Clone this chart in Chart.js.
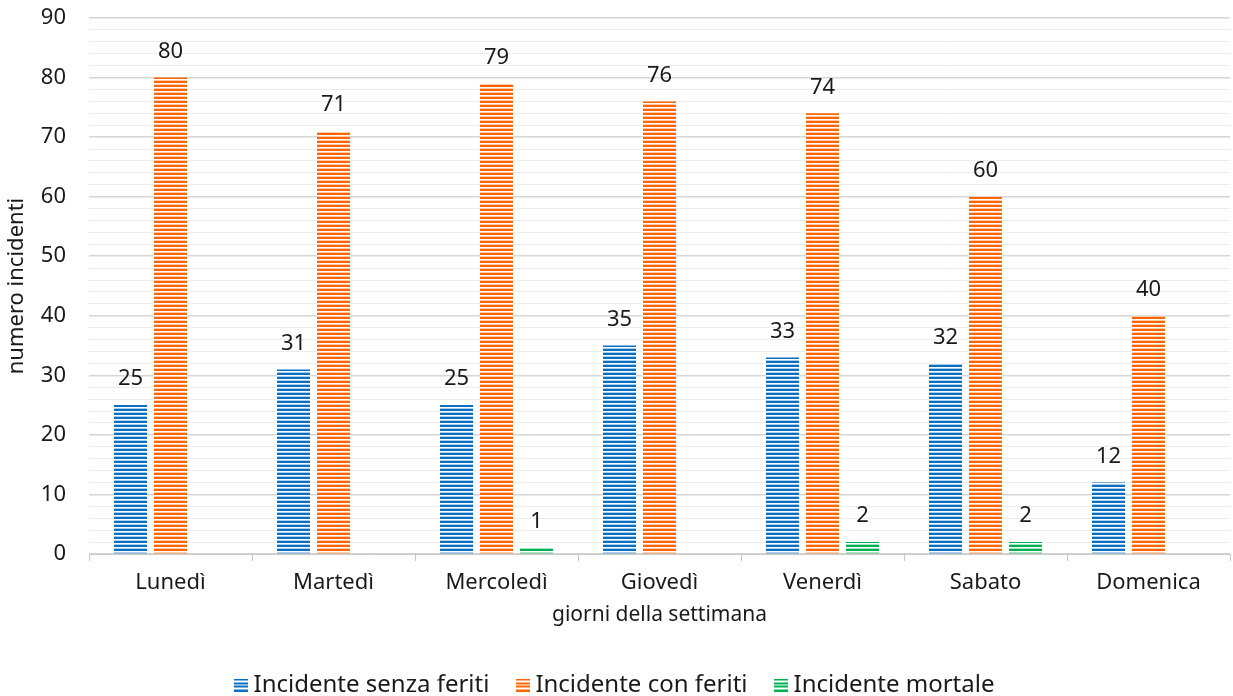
<!DOCTYPE html>
<html>
<head>
<meta charset="utf-8">
<script src="https://cdn.jsdelivr.net/npm/chart.js@4.4.1/dist/chart.umd.min.js"></script>
<style>
  html, body { margin: 0; padding: 0; background: #fff; }
  #wrap { width: 1233px; height: 696px; position: relative; }
</style>
</head>
<body>
<div id="wrap"><canvas id="chart"></canvas></div>
<script>
const days = ['Lunedì', 'Martedì', 'Mercoledì', 'Giovedì', 'Venerdì', 'Sabato', 'Domenica'];
const senzaFeriti = [25, 31, 25, 35, 33, 32, 12];
const conFeriti = [80, 71, 79, 76, 74, 60, 40];
const mortale = [0, 0, 1, 0, 2, 2, 0];
const seriesNames = ['Incidente senza feriti', 'Incidente con feriti', 'Incidente mortale'];
const seriesColors = ['#0a6fc2', '#ff6600', '#00b050'];

const FONT = '"Noto Sans", "Open Sans", sans-serif';
const INK = '#1a1a1a';

// horizontal line fill, 4px repeat
function stripes(color) {
  const c = document.createElement('canvas');
  c.width = 4; c.height = 4;
  const g = c.getContext('2d');
  g.fillStyle = '#ffffff';
  g.fillRect(0, 0, 4, 4);
  g.fillStyle = color;
  g.fillRect(0, 1, 4, 2);
  g.globalAlpha = 0.35;
  g.fillRect(0, 0, 4, 1);
  return g.createPattern(c, 'repeat');
}

// small "≡" swatch for the legend
function legendBox(color) {
  const c = document.createElement('canvas');
  c.width = 14; c.height = 13;
  const g = c.getContext('2d');
  g.fillStyle = color;
  for (let y = 0; y < 13; y += 3.6) g.fillRect(0, Math.round(y), 14, 2);
  return c;
}

const valueLabels = {
  id: 'valueLabels',
  afterDatasetsDraw(chart) {
    const ctx = chart.ctx;
    ctx.save();
    ctx.font = '22px ' + FONT;
    ctx.fillStyle = INK;
    ctx.textAlign = 'center';
    ctx.textBaseline = 'middle';
    chart.data.datasets.forEach((ds, i) => {
      chart.getDatasetMeta(i).data.forEach((bar, j) => {
        const v = ds.data[j];
        if (!v) return;
        ctx.fillText(String(v), bar.x, bar.y - 26);
      });
    });
    ctx.restore();
  }
};

const datasets = [senzaFeriti, conFeriti, mortale].map((data, i) => ({
  label: seriesNames[i],
  data,
  backgroundColor: stripes(seriesColors[i]),
  borderWidth: 0,
  pointStyle: legendBox(seriesColors[i]),
  categoryPercentage: 0.736,
  barPercentage: 0.825
}));

new Chart(document.getElementById('chart'), {
  type: 'bar',
  data: { labels: days, datasets },
  plugins: [valueLabels],
  options: {
    responsive: true,
    maintainAspectRatio: false,
    animation: false,
    layout: { padding: { top: 0, right: 3, left: 5, bottom: -11 } },
    plugins: {
      tooltip: { enabled: false },
      legend: {
        position: 'bottom',
        labels: {
          usePointStyle: true,
          color: INK,
          font: { family: FONT, size: 24 },
          padding: 33,
          boxWidth: 1,
          boxHeight: 13
        }
      }
    },
    scales: {
      x: {
        offset: true,
        afterFit: s => { s.height = 86; },
        border: { color: '#c8c8c8', width: 1 },
        grid: {
          offset: true,
          drawOnChartArea: false,
          drawTicks: true,
          tickLength: 7,
          color: '#c8c8c8'
        },
        ticks: { color: INK, font: { family: FONT, size: 22 }, padding: 9, maxRotation: 0 },
        title: {
          display: true,
          text: 'giorni della settimana',
          color: INK,
          font: { family: FONT, size: 21 },
          padding: { top: 0, bottom: 12 }
        }
      },
      y: {
        min: 0,
        max: 90,
        afterFit: s => { s.width = 84; s.paddingTop = 18; },
        border: { display: false },
        grid: {
          drawTicks: false,
          color: c => (c.tick && c.tick.value % 10 === 0) ? '#d6d6d6' : '#ececec',
          lineWidth: c => (c.tick && c.tick.value % 10 === 0) ? 1.5 : 1
        },
        ticks: {
          stepSize: 2,
          autoSkip: false,
          color: INK,
          font: { family: FONT, size: 22 },
          padding: 23,
          callback: v => (v % 10 === 0 ? String(v) : '')
        },
        title: {
          display: true,
          text: 'numero incidenti',
          color: INK,
          font: { family: FONT, size: 22 },
          padding: { top: -1, bottom: 0 }
        }
      }
    }
  }
});
</script>
</body>
</html>
